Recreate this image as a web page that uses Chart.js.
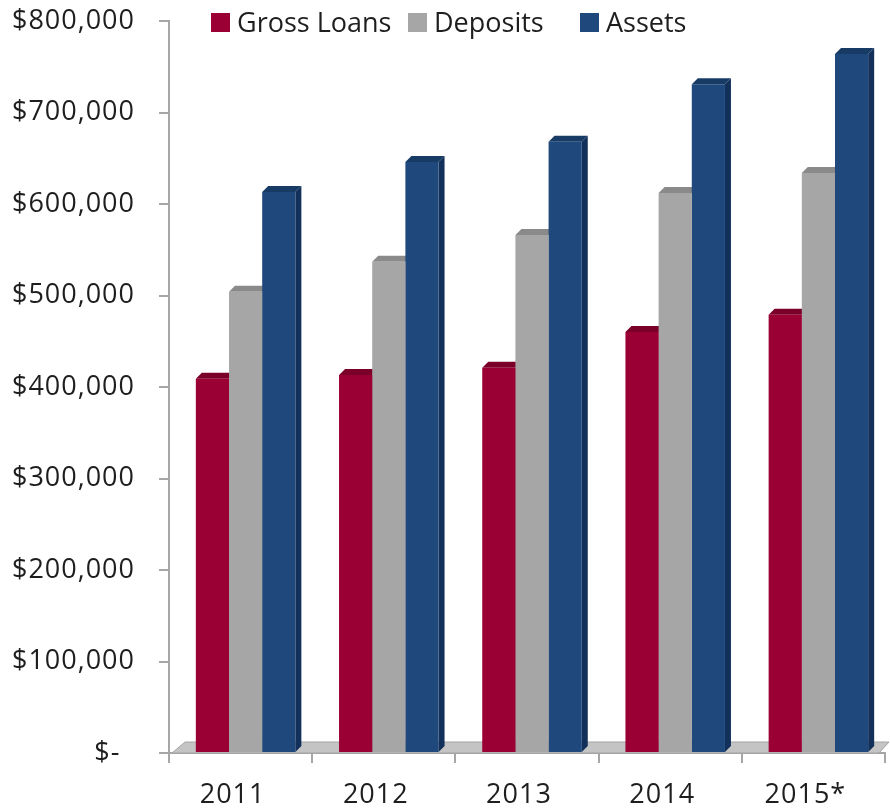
<!DOCTYPE html>
<html>
<head>
<meta charset="utf-8">
<script src="https://cdn.jsdelivr.net/npm/chart.js@4.4.1/dist/chart.umd.min.js"></script>
<style>
  html, body { margin: 0; padding: 0; background: #fff; }
  #wrap { position: relative; width: 890px; height: 810px; }
  #legend {
    position: absolute; left: 0; top: 4px; width: 890px; height: 36px;
    font-family: 'Open Sans', sans-serif; font-size: 27px; line-height: 36px; color: #1e1e1e;
  }
  #legend .item { position: absolute; top: 0; display: flex; align-items: center; white-space: nowrap; }
  #legend .box { width: 19px; height: 19px; margin-right: 7px; }
</style>
</head>
<body>
<div id="wrap">
  <canvas id="barChart" width="890" height="810"></canvas>
  <div id="legend"></div>
</div>
<script>
const years = ['2011', '2012', '2013', '2014', '2015*'];
const grossLoans = [409000, 413000, 421000, 460000, 479000];
const deposits = [504000, 537000, 566000, 612000, 634000];
const assets = [613000, 646000, 668000, 731000, 764000];
const yTicks = [0, 100000, 200000, 300000, 400000, 500000, 600000, 700000, 800000];

const seriesNames = ['Gross Loans', 'Deposits', 'Assets'];
const frontColors = ['#9b0034', '#a6a6a6', '#1f497d'];
const topColors = ['#7a0029', '#8a8a8a', '#183b66'];
const sideColors = ['#6e0025', '#7f7f7f', '#12305a'];
const legendLeft = [211, 408, 580];

const DEPTH = 6;     // extrusion of the fake 3d columns
const SHIFT = 5;     // columns sit a little right of the tick centres

// floor slab + top/side faces of each column; fronts come from the bar controller
const depth3d = {
  id: 'depth3d',
  beforeDraw(chart) {
    chart.ctx.letterSpacing = '1px';
  },
  beforeDatasetsDraw(chart) {
    const { ctx, chartArea, scales } = chart;
    const y0 = scales.y.getPixelForValue(0);

    ctx.save();
    ctx.beginPath();
    ctx.moveTo(chartArea.left + 3, y0);
    ctx.lineTo(chartArea.left + 16, y0 - 11);
    ctx.lineTo(chartArea.right + 4, y0 - 11);
    ctx.lineTo(chartArea.right - 6, y0);
    ctx.closePath();
    ctx.fillStyle = '#c4c4c4';
    ctx.fill();
    ctx.strokeStyle = '#a3a3a3';
    ctx.lineWidth = 1;
    ctx.stroke();
    ctx.restore();

    ctx.save();
    ctx.translate(SHIFT, 0);
    chart.data.datasets.forEach((ds, i) => {
      chart.getDatasetMeta(i).data.forEach(bar => {
        const { x, y, base, width } = bar.getProps(['x', 'y', 'base', 'width'], true);
        const x0 = x - width / 2, x1 = x + width / 2;
        ctx.fillStyle = sideColors[i];
        ctx.beginPath();
        ctx.moveTo(x1, y);
        ctx.lineTo(x1 + DEPTH, y - DEPTH);
        ctx.lineTo(x1 + DEPTH, base - DEPTH);
        ctx.lineTo(x1, base);
        ctx.closePath();
        ctx.fill();
        ctx.fillStyle = topColors[i];
        ctx.beginPath();
        ctx.moveTo(x0, y);
        ctx.lineTo(x0 + DEPTH, y - DEPTH);
        ctx.lineTo(x1 + DEPTH, y - DEPTH);
        ctx.lineTo(x1, y);
        ctx.closePath();
        ctx.fill();
      });
    });
  },
  afterDatasetsDraw(chart) {
    chart.ctx.restore();
  }
};

const legendEl = document.getElementById('legend');
seriesNames.forEach((name, i) => {
  const item = document.createElement('div');
  item.className = 'item';
  item.style.left = legendLeft[i] + 'px';
  item.innerHTML = `<span class="box" style="background:${frontColors[i]}"></span><span>${name}</span>`;
  legendEl.appendChild(item);
});

const axisFont = { family: "'Open Sans', sans-serif", size: 27 };

new Chart(document.getElementById('barChart').getContext('2d'), {
  type: 'bar',
  data: {
    labels: years,
    datasets: [grossLoans, deposits, assets].map((vals, i) => ({
      label: seriesNames[i],
      data: vals,
      backgroundColor: frontColors[i],
      borderWidth: 0,
      categoryPercentage: 0.695,
      barPercentage: 1
    }))
  },
  options: {
    responsive: false,
    animation: false,
    layout: { padding: { left: 10, right: 5, top: 21, bottom: 0 } },
    plugins: {
      legend: { display: false },
      tooltip: { enabled: false }
    },
    scales: {
      x: {
        afterFit: s => { s.height = 57; },
        border: { color: '#a6a6a6', width: 2 },
        grid: { offset: true, drawOnChartArea: false, tickLength: 10, color: '#a6a6a6', lineWidth: 2 },
        ticks: { color: '#1e1e1e', font: axisFont, padding: 16, labelOffset: -8 }
      },
      y: {
        min: 0,
        max: 800000,
        afterFit: s => { s.width = 159; s.paddingTop = 0; s.paddingBottom = 0; },
        afterBuildTicks: s => { s.ticks = yTicks.map(v => ({ value: v })); },
        border: { color: '#a6a6a6', width: 2 },
        grid: { drawOnChartArea: false, tickLength: 10, color: '#a6a6a6', lineWidth: 2 },
        ticks: {
          color: '#1e1e1e',
          font: axisFont,
          padding: 24,
          callback: v => v === 0 ? '$-\u2002' : '$' + v.toLocaleString('en-US')
        }
      }
    }
  },
  plugins: [depth3d]
});
</script>
</body>
</html>
